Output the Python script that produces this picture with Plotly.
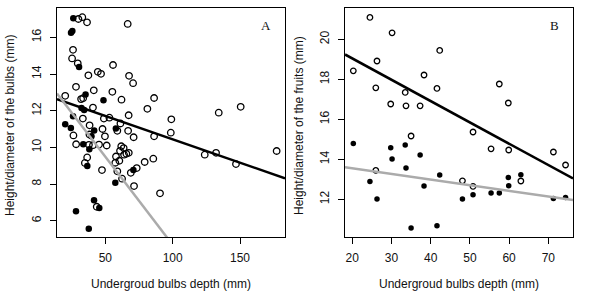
import plotly.graph_objects as go

# ---------------- data ----------------
# Panel A: bulbs
a_open_x = [30.0, 32.9, 36.4, 66.6, 26.0, 25.3, 29.5, 55.7, 37.4, 44.4, 46.8, 67.6, 70.6,
            28.2, 41.4, 55.2, 20.2, 32.0, 33.5, 62.0, 81.2, 86.2, 40.8, 33.3, 48.9, 53.0,
            67.3, 61.2, 58.9, 66.9, 71.0, 38.3, 47.9, 26.3, 49.7, 38.2, 28.3, 37.8, 40.8,
            45.3, 51.0, 61.8, 63.6, 36.5, 34.8, 47.5, 57.9, 60.9, 63.9, 65.6, 67.4, 57.4,
            60.4, 58.9, 62.4, 68.9, 73.3, 71.3, 79.2, 85.6, 90.6, 43.6, 99.0, 98.6, 86.2,
            134.2, 150.5, 123.8, 132.2, 147.0, 177.2]
a_open_y = [17.0, 17.1, 16.82, 16.73, 15.32, 14.85, 14.58, 14.49, 13.93, 14.12, 14.01, 13.9, 13.5,
            13.3, 13.11, 13.03, 12.81, 12.63, 12.68, 12.6, 12.1, 12.69, 12.17, 11.57, 11.57, 11.62,
            11.75, 11.3, 10.9, 10.9, 10.55, 11.2, 11.0, 10.65, 10.6, 10.7, 10.17, 10.14, 10.12,
            10.15, 10.1, 10.06, 9.96, 9.45, 9.15, 8.76, 9.5, 9.81, 9.6, 9.65, 9.7, 9.16,
            9.27, 8.69, 8.29, 8.61, 8.87, 7.89, 9.2, 9.38, 7.49, 6.76, 11.53, 10.8, 10.6,
            11.89, 12.21, 9.6, 9.7, 9.09, 9.8]
a_fill_x = [26.2, 24.5, 25.5, 30.5, 35.3, 48.6, 32.3, 34.3, 26.0, 20.2, 24.4, 41.7, 57.8,
            39.7, 33.6, 38.1, 36.6, 57.4, 70.8, 41.6, 45.5, 28.2, 37.7]
a_fill_y = [17.04, 16.25, 16.34, 14.38, 12.88, 12.57, 12.15, 12.04, 11.69, 11.26, 11.05, 10.92, 11.03,
            10.6, 10.17, 9.89, 8.98, 8.07, 8.76, 7.12, 6.69, 6.51, 5.56]

# Panel B: fruits
b_open_x = [20.26, 24.5, 26.3, 26.0, 30.15, 29.8, 33.5, 33.7, 35.0, 37.3, 38.3, 41.6, 42.3,
            48.1, 50.8, 50.8, 55.4, 57.5, 59.8, 59.9, 63.0, 71.3, 74.4, 26.0]
b_open_y = [18.43, 21.1, 18.92, 17.58, 20.33, 16.77, 17.35, 16.68, 15.17, 16.68, 18.22, 17.55, 19.45,
            12.93, 15.37, 12.65, 14.53, 17.77, 16.82, 14.47, 12.92, 14.37, 13.72, 13.45]
b_fill_x = [20.26, 24.5, 26.3, 29.8, 30.15, 33.5, 33.7, 35.0, 37.3, 38.3, 41.6, 42.3, 48.1,
            50.8, 55.4, 57.5, 59.8, 59.9, 63.0, 71.3, 74.4]
b_fill_y = [14.8, 12.9, 12.02, 14.58, 14.02, 14.72, 13.57, 10.57, 14.22, 12.67, 10.68, 13.22, 12.02,
            12.23, 12.32, 12.32, 13.1, 12.68, 13.23, 12.05, 12.1]

# regression lines: [intercept, slope]
a_black_fit = [12.99, -0.0255]
a_gray_fit = [14.29, -0.0961]
b_black_fit = [21.18, -0.1066]
b_gray_fit = [14.11, -0.0280]

# axis ranges and ticks
a_xrange = [14.1, 183.4]
a_yrange = [5.11, 17.6]
b_xrange = [18.14, 76.3]
b_yrange = [10.12, 21.57]
a_xticks = [50, 100, 150]
a_yticks = [6, 8, 10, 12, 14, 16]
b_xticks = [20, 30, 40, 50, 60, 70]
b_yticks = [12, 14, 16, 18, 20]

x_title = "Undergroud bulbs depth (mm)"
a_ytitle = "Height/diameter of the bulbs (mm)"
b_ytitle = "Height/diameter of the fruits (mm)"
panel_labels = ["A", "B"]

# ---------------- figure ----------------
W, H = 594, 295
fig = go.Figure()

def add_panel(xa, ya, ox, oy, fx, fy, fits, xr, msize):
    fig.add_trace(go.Scatter(x=ox, y=oy, mode="markers", xaxis=xa, yaxis=ya,
                             marker=dict(symbol="circle-open", size=msize, color="black",
                                         line=dict(width=1.3, color="black")),
                             showlegend=False, hoverinfo="skip"))
    fig.add_trace(go.Scatter(x=fx, y=fy, mode="markers", xaxis=xa, yaxis=ya,
                             marker=dict(symbol="circle", size=msize, color="black",
                                         line=dict(width=0)),
                             showlegend=False, hoverinfo="skip"))
    for (b0, b1), col in fits:
        fig.add_trace(go.Scatter(x=[xr[0], xr[1]], y=[b0 + b1 * xr[0], b0 + b1 * xr[1]],
                                 mode="lines", xaxis=xa, yaxis=ya,
                                 line=dict(color=col, width=2.5),
                                 showlegend=False, hoverinfo="skip"))

add_panel("x", "y", a_open_x, a_open_y, a_fill_x, a_fill_y,
          [(a_black_fit, "black"), (a_gray_fit, "#ababab")], a_xrange, 6.5)
add_panel("x2", "y2", b_open_x, b_open_y, b_fill_x, b_fill_y,
          [(b_black_fit, "black"), (b_gray_fit, "#ababab")], b_xrange, 5.5)

font_ax = dict(family="Liberation Sans, Arial, sans-serif", size=12, color="#111111")

def ax_common():
    return dict(showline=True, linecolor="black", linewidth=1, mirror=True,
                showgrid=False, zeroline=False, ticks="outside", ticklen=6,
                tickcolor="black", tickwidth=1, tickfont=font_ax)

top = 1 - 8 / H
bot = 1 - 237 / H
fig.update_layout(
    width=W, height=H,
    margin=dict(l=0, r=0, t=0, b=0),
    paper_bgcolor="white", plot_bgcolor="white",
    xaxis=dict(domain=[57 / W, 285 / W], range=a_xrange, tickvals=a_xticks,
               anchor="y", ticklabelstandoff=4, **ax_common()),
    yaxis=dict(domain=[bot, top], range=a_yrange, tickvals=a_yticks, tickangle=-90,
               anchor="x", ticklabelstandoff=4, **ax_common()),
    xaxis2=dict(domain=[345 / W, 573 / W], range=b_xrange, tickvals=b_xticks,
                anchor="y2", ticklabelstandoff=4, **ax_common()),
    yaxis2=dict(domain=[bot, top], range=b_yrange, tickvals=b_yticks, tickangle=-90,
                anchor="x2", ticklabelstandoff=4, **ax_common()),
)

ann = []
for cx in [171, 459]:
    ann.append(dict(text=x_title, x=cx / W, y=1 - 284 / H, xref="paper", yref="paper",
                    showarrow=False, font=font_ax, xanchor="center", yanchor="middle"))
for cx, t in [(10, a_ytitle), (299, b_ytitle)]:
    ann.append(dict(text=t, x=cx / W, y=1 - 126 / H, xref="paper", yref="paper",
                    showarrow=False, font=font_ax, textangle=-90,
                    xanchor="center", yanchor="middle"))
for cx, t in [(266, panel_labels[0]), (554, panel_labels[1])]:
    ann.append(dict(text=t, x=cx / W, y=1 - 25 / H, xref="paper", yref="paper",
                    showarrow=False,
                    font=dict(family="Liberation Serif, Times New Roman, serif", size=13,
                              color="#111111"),
                    xanchor="center", yanchor="middle"))
fig.update_layout(annotations=ann)

fig.write_html("out.html", config={"displayModeBar": False},
               post_script="document.body.style.margin='0px';")
